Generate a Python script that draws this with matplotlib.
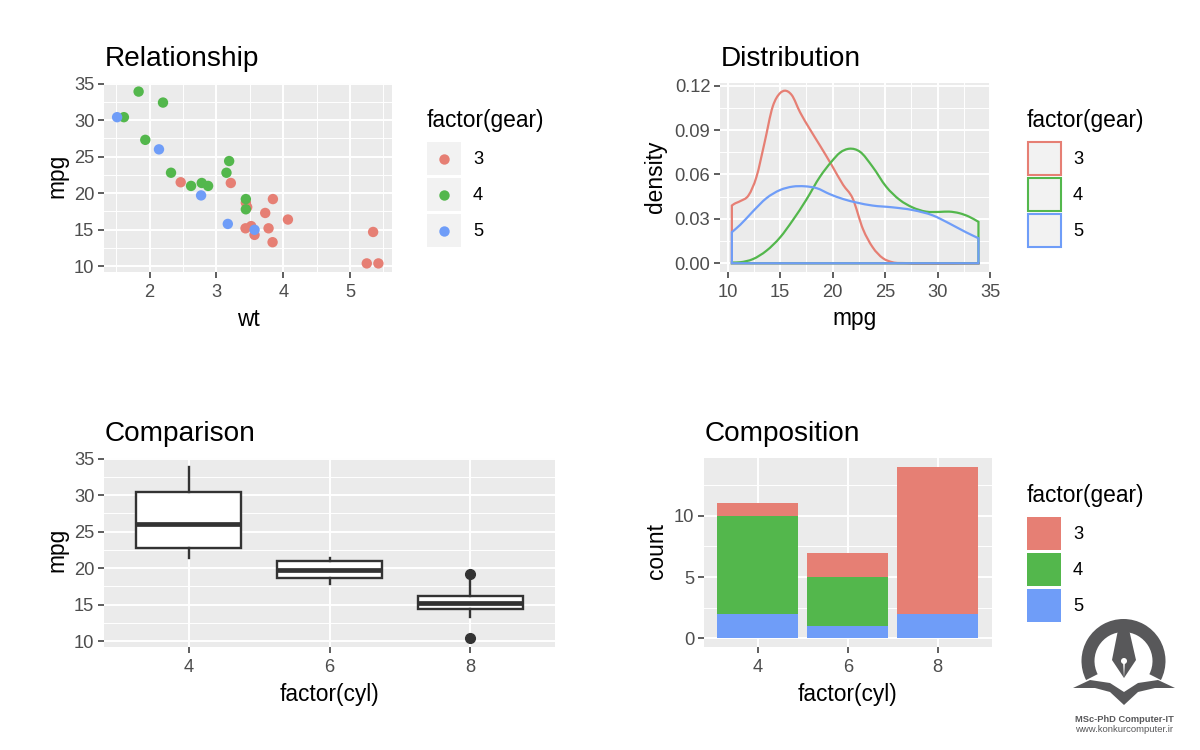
import numpy as np
import matplotlib
matplotlib.use('Agg')
import matplotlib.pyplot as plt
from matplotlib.path import Path
from matplotlib.patches import Rectangle, Wedge, Polygon, Ellipse, PathPatch

plt.rcParams['font.family'] = ['Liberation Sans', 'DejaVu Sans']

# mtcars columns
wt = [2.62, 2.875, 2.32, 3.215, 3.44, 3.46, 3.57, 3.19, 3.15, 3.44, 3.44, 4.07, 3.73, 3.78, 5.25, 5.424,
      5.345, 2.2, 1.615, 1.835, 2.465, 3.52, 3.435, 3.84, 3.845, 1.935, 2.14, 1.513, 3.17, 2.77, 3.57, 2.78]
mpg = [21, 21, 22.8, 21.4, 18.7, 18.1, 14.3, 24.4, 22.8, 19.2, 17.8, 16.4, 17.3, 15.2, 10.4, 10.4,
       14.7, 32.4, 30.4, 33.9, 21.5, 15.5, 15.2, 13.3, 19.2, 27.3, 26, 30.4, 15.8, 19.7, 15, 21.4]
gear = [4, 4, 4, 3, 3, 3, 3, 4, 4, 4, 4, 3, 3, 3, 3, 3, 3, 4, 4, 4, 3, 3, 3, 3, 3, 4, 5, 5, 5, 5, 5, 4]

# density curves
d3_x = [10.4, 10.6, 11.2, 12, 12.75, 13.5, 14.3, 15, 15.45, 16.1, 16.9, 17.8, 18.8, 19.9, 21, 21.9, 22.9, 23.8, 24.8, 25.7, 27, 34]
d3_y = [.039, .040, .042, .046, .0585, .081, .106, .115, .1166, .1137, .102, .091, .0795, .0665, .053, .044, .023, .011, .0034, .0007, .0001, 0]
d4_x = [10.4, 11.2, 12.4, 13.7, 15, 16.2, 17.5, 18.8, 19.9, 20.7, 21.6, 22.6, 23.8, 25.1, 26.4, 27.6, 28.9, 30.2, 31.1, 32.1, 33, 33.9]
d4_y = [.0005, .0007, .0028, .0085, .0175, .029, .043, .0585, .0687, .0747, .0774, .0754, .0653, .0518, .0428, .0378, .0349, .0347, .0349, .0338, .0315, .028]
d5_x = [10.4, 11.2, 12.4, 13.7, 15, 16.2, 17.35, 18.5, 19.7, 21, 22.3, 23.8, 25.7, 27.6, 29.6, 31.1, 32.7, 33.9]
d5_y = [.021, .026, .035, .044, .0495, .0518, .052, .0507, .0468, .0434, .041, .039, .0378, .036, .0322, .027, .021, .0169]

# boxplot stats
cyl_labels = ['4', '6', '8']
box_q1 = [22.8, 18.65, 14.4]
box_med = [26, 19.7, 15.2]
box_q3 = [30.4, 21, 16.25]
box_lo = [21.4, 17.8, 13.3]
box_hi = [33.9, 21.4, 18.7]
box_out = [[], [], [10.4, 19.2]]

# counts per cyl
count_3 = [1, 2, 12]
count_4 = [8, 4, 0]
count_5 = [2, 1, 2]

gear_levels = [3, 4, 5]
colors = {3: '#e67f74', 4: '#53b74c', 5: '#6f9df8'}

W, H = 1200, 750
fig = plt.figure(figsize=(12, 7.5), dpi=100)


def panel(left, top, right, bottom):
    ax = fig.add_axes([left/W, 1 - bottom/H, (right-left)/W, (bottom-top)/H])
    ax.set_facecolor('#ebebeb')
    for s in ax.spines.values():
        s.set_visible(False)
    ax.set_axisbelow(True)
    ax.grid(which='major', color='white', lw=1.4)
    ax.grid(which='minor', color='white', lw=0.7)
    ax.tick_params(which='major', length=4, width=1.1, color='#333333', labelcolor='#4d4d4d', labelsize=13.2, pad=3)
    ax.tick_params(axis='x', which='major', pad=4.5)
    ax.tick_params(which='minor', length=0)
    return ax


def density_path(xs, ys):
    # outline closed along the baseline, with bezier handles between the read values
    x = np.array(xs)
    y = np.array(ys)
    slope = np.gradient(y, x)
    verts = [(x[0], 0), (x[0], y[0])]
    codes = [Path.MOVETO, Path.LINETO]
    for i in range(len(x) - 1):
        dx = x[i+1] - x[i]
        verts += [(x[i] + dx/3, y[i] + slope[i]*dx/3),
                  (x[i+1] - dx/3, y[i+1] - slope[i+1]*dx/3),
                  (x[i+1], y[i+1])]
        codes += [Path.CURVE4]*3
    verts += [(x[-1], 0), (x[0], 0), (x[0], 0)]
    codes += [Path.LINETO, Path.LINETO, Path.CLOSEPOLY]
    return Path(verts, codes)


# Relationship
ax1 = panel(104, 83, 391.5, 272)
ax1.scatter(wt, mpg, c=[colors[g] for g in gear], s=56, linewidths=0, zorder=3)
ax1.set_xlim(1.317, 5.62)
ax1.set_ylim(9.225, 35.075)
ax1.set_xticks([2, 3, 4, 5])
ax1.set_xticks([1.5, 2.5, 3.5, 4.5, 5.5], minor=True)
ax1.set_yticks([10, 15, 20, 25, 30, 35])
ax1.set_yticks([12.5, 17.5, 22.5, 27.5, 32.5], minor=True)

# Distribution
ax2 = panel(720, 83, 990, 272)
for xs, ys, g in [(d3_x, d3_y, 3), (d4_x, d4_y, 4), (d5_x, d5_y, 5)]:
    ax2.add_patch(PathPatch(density_path(xs, ys), fill=False, ec=colors[g], lw=1.6, joinstyle='miter', zorder=3))
ax2.set_xlim(9.27, 35)
ax2.set_ylim(-0.0059, 0.1218)
ax2.set_xticks([10, 15, 20, 25, 30, 35])
ax2.set_xticks([12.5, 17.5, 22.5, 27.5, 32.5], minor=True)
ax2.set_yticks([0, .03, .06, .09, .12])
ax2.set_yticks([.015, .045, .075, .105], minor=True)
ax2.set_yticklabels(['0.00', '0.03', '0.06', '0.09', '0.12'])

# Comparison
ax3 = panel(104, 458, 555, 647)
stats = []
for i, lab in enumerate(cyl_labels):
    stats.append({'label': lab, 'q1': box_q1[i], 'med': box_med[i], 'q3': box_q3[i],
                  'whislo': box_lo[i], 'whishi': box_hi[i], 'fliers': box_out[i]})
ax3.bxp(stats, positions=[1, 2, 3], widths=0.75, showcaps=False, patch_artist=True,
        boxprops=dict(facecolor='white', edgecolor='#333333', lw=1.7),
        medianprops=dict(color='#333333', lw=3.4, solid_capstyle='butt'),
        whiskerprops=dict(color='#333333', lw=1.7),
        flierprops=dict(marker='o', markerfacecolor='#333333', markeredgecolor='#333333', markersize=7),
        zorder=3)
ax3.set_xlim(0.4, 3.6)
ax3.set_ylim(9.225, 35.075)
ax3.set_yticks([10, 15, 20, 25, 30, 35])
ax3.set_yticks([12.5, 17.5, 22.5, 27.5, 32.5], minor=True)
ax3.grid(which='major', color='white', lw=1.4)
ax3.tick_params(axis='x', which='major', pad=4.5)

# Composition
ax4 = panel(704, 458, 991.5, 647)
pos = np.arange(3)
b5 = np.array(count_5)
b4 = np.array(count_4)
b3 = np.array(count_3)
ax4.bar(pos, b5, 0.9, color=colors[5], zorder=3)
ax4.bar(pos, b4, 0.9, bottom=b5, color=colors[4], zorder=3)
ax4.bar(pos, b3, 0.9, bottom=b5+b4, color=colors[3], zorder=3)
ax4.set_xlim(-0.6, 2.6)
ax4.set_ylim(-0.7, 14.7)
ax4.set_xticks(pos)
ax4.set_xticklabels(cyl_labels)
ax4.set_yticks([0, 5, 10])
ax4.set_yticks([2.5, 7.5, 12.5], minor=True)

# labels placed in pixels, like the patchwork layout
ov = fig.add_axes([0, 0, 1, 1], zorder=10)
ov.set_xlim(0, W)
ov.set_ylim(H, 0)
ov.axis('off')
ov.patch.set_alpha(0)

titles = [('Relationship', 104.5, 59), ('Distribution', 720.5, 59), ('Comparison', 104.5, 434), ('Composition', 704.5, 434)]
for t, x, y in titles:
    ov.text(x, y, t, fontsize=20.2, ha='left', va='center', color='black')

xlabels = [('wt', 248, 319), ('mpg', 855, 319), ('factor(cyl)', 330, 694), ('factor(cyl)', 847, 694)]
for t, x, y in xlabels:
    ov.text(x, y, t, fontsize=16.4, ha='center', va='center', color='black')
ylabels = [('mpg', 57, 176), ('density', 656, 177), ('mpg', 57, 550), ('count', 656, 551)]
for t, x, y in ylabels:
    ov.text(x, y, t, fontsize=16.4, ha='center', va='center', rotation=90, color='black')


def legend(x, y, kind):
    ov.text(x, y - 21, 'factor(gear)', fontsize=16.4, ha='left', va='center', color='black')
    for i, g in enumerate(gear_levels):
        ky = y + 36*i
        c = colors[g]
        if kind == 'point':
            ov.add_patch(Rectangle((x, ky), 33.5, 33.5, fc='#f2f2f2', ec='none'))
            ov.scatter([x+17], [ky+17], s=56, color=c, linewidths=0)
        elif kind == 'line':
            ov.add_patch(Rectangle((x+0.5, ky+0.5), 33, 32.5, fc='#f2f2f2', ec=c, lw=1.5))
        else:
            ov.add_patch(Rectangle((x, ky), 33.5, 33.5, fc=c, ec='none'))
        ov.text(x+46, ky+18, str(g), fontsize=13.2, ha='left', va='center', color='black')


legend(427, 141.5, 'point')
legend(1027, 141.5, 'line')
legend(1027, 516.5, 'fill')

# logo (overlay y runs downward, so the top arc is 153 to 27 through 270)
logo = '#58585a'
ov.add_patch(Wedge((1123.5, 661), 42, 153, 27, width=13, fc=logo, ec='none'))
ov.add_patch(Polygon([(1119, 625), (1128, 625), (1136, 660), (1124, 678), (1112, 660)], fc=logo, ec='none'))
ov.add_patch(Ellipse((1124, 661), 6, 6, fc='white', ec='none'))
ov.add_patch(Polygon([(1123, 661), (1125, 661), (1124, 678)], fc='white', ec='none'))
ov.add_patch(Polygon([(1073, 688), (1090, 680), (1110, 683), (1124, 692), (1138, 683), (1158, 680), (1175, 688),
                      (1155, 688), (1138, 692), (1124, 705), (1110, 692), (1095, 688)], fc=logo, ec='none'))
ov.text(1124, 719, 'MSc-PhD Computer-IT', fontsize=6.7, ha='center', va='center', color=logo, fontweight='bold')
ov.text(1124, 729, 'www.konkurcomputer.ir', fontsize=6.8, ha='center', va='center', color=logo)

fig.savefig('out.png', dpi=100)
